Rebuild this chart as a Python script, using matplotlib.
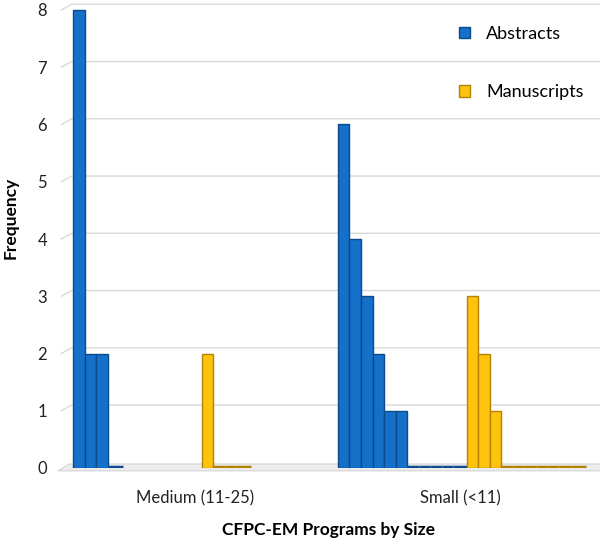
import numpy as np
import matplotlib
matplotlib.use("Agg")
import matplotlib.pyplot as plt
from matplotlib.patches import Polygon

plt.rcParams['font.family'] = ['Lato', 'DejaVu Sans']

# data
categories = ['Medium (11-25)', 'Small (<11)']
abstracts = [[8, 2, 2, 0],
             [6, 4, 3, 2, 1, 1, 0, 0, 0, 0, 0]]
manuscripts = [[2, 0, 0, 0],
               [3, 2, 1, 0, 0, 0, 0, 0, 0, 0]]
yticks = [0, 1, 2, 3, 4, 5, 6, 7, 8]

blue = '#1470c8'
blue_edge = '#0b4a8c'
yellow = '#ffc20e'
yellow_edge = '#b08400'

cat_w = 23.0    # slots per category
off_a = 0.91    # where the blue run starts
off_m = 12.1    # where the yellow run starts

fig = plt.figure(figsize=(6, 5.41), dpi=100)
ax = fig.add_axes([62.5/600, 73/541, 46*11.52/600, 8.1*57.25/541])
ax.set_xlim(0, 46)
ax.set_ylim(0, 8.1)

# back wall gridlines with a little 3d slant at the left
for v in yticks[1:]:
    ax.plot([-0.1, 0.8, 47.5], [v, v + 0.1, v + 0.1], color='#d9d9d9',
            lw=1, clip_on=False, zorder=0)

# floor
floor = Polygon([(-0.4, -0.05), (0.6, 0.07), (47.5, 0.07), (46.6, -0.05)],
                closed=True, facecolor='#ececec', edgecolor='#d4d4d4',
                lw=0.8, clip_on=False, zorder=1)
ax.add_patch(floor)

handles = []
for i in range(len(categories)):
    for vals, off, fc, ec in [(abstracts[i], off_a, blue, blue_edge),
                              (manuscripts[i], off_m, yellow, yellow_edge)]:
        vals = np.array(vals, dtype=float)
        x = i*cat_w + off + np.arange(len(vals))
        b = ax.bar(x, vals, width=1.0, align='edge', color=fc,
                   edgecolor=ec, lw=1.0, zorder=3)
        zero = vals == 0
        if zero.any():
            ax.hlines(vals[zero] + 0.02, x[zero], x[zero] + 1.0 + 0.3*(x[zero] == x[-1]),
                      color=ec, lw=2.5, zorder=3)
        if i == 0:
            handles.append(b)

for s in ax.spines.values():
    s.set_visible(False)
ax.set_yticks(yticks)
ax.set_yticklabels([str(t) for t in yticks], fontsize=12, color='#222222')
ax.set_xticks([cat_w*(i + 0.5) for i in range(len(categories))])
ax.set_xticklabels(categories, fontsize=12, color='#222222')
ax.tick_params(axis='y', length=0, pad=11)
ax.tick_params(axis='x', length=0, pad=16)

fig.text(328/600, 1 - 530/541, 'CFPC-EM Programs by Size', fontsize=12.5,
         fontweight='bold', ha='center', va='center')
fig.text(11/600, 1 - 218/541, 'Frequency', fontsize=12.5, fontweight='bold',
         rotation=90, ha='center', va='center')

ax.legend(handles, ['Abstracts', 'Manuscripts'], loc='upper left',
          bbox_to_anchor=(450/600, 1 - 17/541), bbox_transform=fig.transFigure,
          frameon=False, fontsize=13, handlelength=0.6, handleheight=0.6,
          handletextpad=0.9, labelspacing=2.35, borderpad=0)

fig.savefig('out.png', dpi=100)
